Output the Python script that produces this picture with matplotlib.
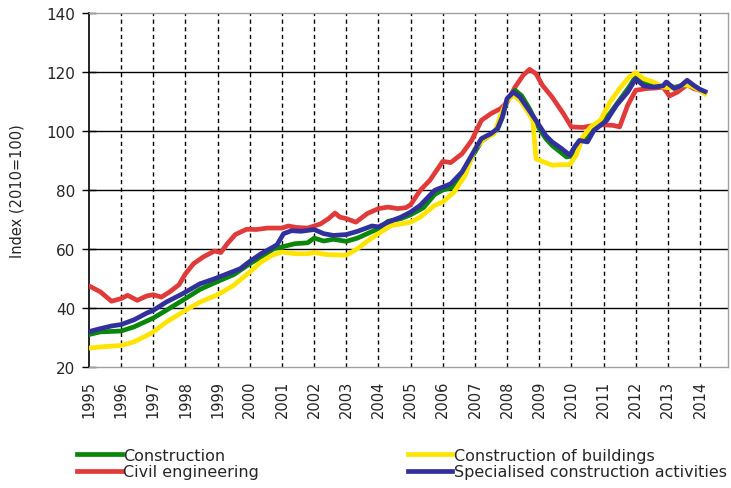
import matplotlib
matplotlib.use("Agg")
import matplotlib.pyplot as plt

# ---- data ----
red_t = [1995.0, 1995.35, 1995.7, 1996.0, 1996.2, 1996.5, 1996.8, 1997.0, 1997.25, 1997.5, 1997.8,
         1998.0, 1998.25, 1998.55, 1998.9, 1999.1, 1999.3, 1999.55, 1999.9, 2000.2, 2000.55, 2001.0,
         2001.2, 2001.45, 2001.8, 2002.0, 2002.2, 2002.45, 2002.65, 2002.8, 2003.0, 2003.3, 2003.65,
         2004.0, 2004.3, 2004.6, 2004.85, 2005.0, 2005.3, 2005.6, 2006.0, 2006.25, 2006.6, 2006.9,
         2007.2, 2007.5, 2007.8, 2008.0, 2008.25, 2008.5, 2008.7, 2008.9, 2009.1, 2009.4, 2009.75,
         2010.0, 2010.35, 2010.7, 2011.0, 2011.3, 2011.5, 2011.75, 2012.0, 2012.35, 2012.65, 2012.85,
         2013.05, 2013.3, 2013.6, 2013.8, 2014.0, 2014.15]
red_v = [47.5, 45.5, 42.3, 43.2, 44.3, 42.6, 44.1, 44.5, 43.7, 45.4, 47.9,
         51.6, 55.0, 57.3, 59.3, 58.8, 61.8, 64.9, 66.7, 66.6, 67.1, 67.1,
         67.8, 67.3, 67.1, 67.8, 68.5, 70.3, 72.2, 70.8, 70.3, 69.1, 72.0,
         73.7, 74.2, 73.7, 74.0, 75.0, 79.9, 83.3, 89.7, 89.3, 92.3, 96.8,
         103.6, 105.9, 107.6, 109.8, 114.9, 118.9, 120.9, 119.4, 115.5, 111.5, 105.9,
         101.4, 101.2, 101.9, 102.1, 101.9, 101.4, 108.7, 113.8, 114.4, 114.6, 114.9,
         111.9, 113.2, 115.7, 114.4, 113.8, 113.0]

blue_t = [1995.0, 1995.35, 1995.7, 1996.0, 1996.4, 1996.8, 1997.0, 1997.4, 1997.85, 1998.0, 1998.45,
          1998.9, 1999.3, 1999.7, 2000.0, 2000.35, 2000.7, 2000.85, 2001.05, 2001.3, 2001.6, 2002.0,
          2002.3, 2002.6, 2003.0, 2003.35, 2003.8, 2004.0, 2004.3, 2004.7, 2005.0, 2005.3, 2005.75,
          2006.0, 2006.25, 2006.6, 2006.9, 2007.2, 2007.5, 2007.7, 2007.85, 2008.0, 2008.2, 2008.4,
          2008.65, 2009.0, 2009.2, 2009.4, 2009.7, 2009.95, 2010.1, 2010.25, 2010.5, 2010.7, 2010.9,
          2011.1, 2011.4, 2011.75, 2012.0, 2012.25, 2012.55, 2012.85, 2012.95, 2013.2, 2013.4, 2013.6,
          2013.8, 2014.0, 2014.15]
blue_v = [32.0, 33.0, 33.9, 34.4, 36.0, 38.3, 39.2, 42.0, 44.5, 45.4, 48.2,
          49.9, 51.6, 53.3, 55.8, 58.4, 60.5, 61.5, 65.2, 66.2, 66.0, 66.6,
          65.2, 64.6, 64.9, 66.0, 67.8, 67.5, 69.1, 70.8, 72.5, 74.8, 79.9,
          81.0, 82.1, 86.1, 91.8, 97.4, 99.1, 100.8, 104.7, 111.0, 113.2, 111.5,
          107.6, 101.9, 98.5, 96.3, 94.0, 91.8, 94.6, 96.8, 96.3, 100.2, 101.9,
          103.6, 108.7, 113.2, 117.7, 115.3, 114.9, 115.3, 116.6, 114.4, 115.3, 117.2,
          115.5, 114.1, 113.4]

green_t = [1995.0, 1995.35, 1996.0, 1996.4, 1997.0, 1997.4, 1998.0, 1998.45, 1999.0, 1999.5, 2000.0,
           2000.35, 2000.75, 2001.0, 2001.4, 2001.8, 2002.0, 2002.3, 2002.6, 2003.0, 2003.35, 2003.65,
           2004.0, 2004.3, 2004.7, 2005.0, 2005.4, 2005.75, 2006.0, 2006.35, 2006.6, 2006.9, 2007.2,
           2007.5, 2007.7, 2007.85, 2008.0, 2008.25, 2008.45, 2008.7, 2009.0, 2009.2, 2009.4, 2009.7,
           2009.85, 2010.0, 2010.15, 2010.3, 2010.5, 2010.7, 2010.9, 2011.2, 2011.5, 2011.8, 2012.0,
           2012.25, 2012.55, 2012.85, 2013.0, 2013.2, 2013.5, 2013.65, 2013.85, 2014.0, 2014.15]
green_v = [31.0, 31.9, 32.2, 33.6, 36.6, 39.2, 43.2, 46.3, 49.0, 51.3, 55.0,
           57.3, 60.1, 60.7, 61.8, 62.1, 63.7, 62.7, 63.3, 62.6, 63.7, 65.2,
           66.9, 69.4, 70.3, 71.6, 74.0, 78.5, 80.0, 81.0, 85.0, 91.0, 96.5,
           98.8, 100.5, 104.5, 110.5, 113.8, 112.0, 107.5, 100.8, 97.5, 95.1, 92.5,
           91.2, 91.5, 94.5, 97.0, 97.5, 100.5, 102.5, 106.0, 110.5, 115.0, 118.5,
           116.5, 115.5, 115.0, 115.5, 114.8, 115.6, 116.5, 115.0, 113.8, 113.2]

yellow_t = [1995.0, 1995.35, 1995.75, 1996.0, 1996.4, 1996.8, 1997.0, 1997.4, 1998.0, 1998.45, 1999.0,
            1999.5, 2000.0, 2000.35, 2000.7, 2001.0, 2001.4, 2001.8, 2002.0, 2002.4, 2003.0, 2003.35,
            2003.65, 2004.0, 2004.4, 2004.7, 2005.0, 2005.3, 2005.75, 2006.0, 2006.35, 2006.7, 2007.0,
            2007.3, 2007.6, 2007.8, 2008.0, 2008.2, 2008.4, 2008.65, 2008.8, 2008.9, 2009.1, 2009.4,
            2009.7, 2009.95, 2010.15, 2010.35, 2010.6, 2010.9, 2011.2, 2011.5, 2011.8, 2012.0, 2012.25,
            2012.55, 2012.85, 2013.2, 2013.5, 2013.7, 2014.0, 2014.15]
yellow_v = [26.4, 26.8, 27.1, 27.3, 28.5, 30.7, 31.9, 35.2, 39.2, 42.0, 44.5,
            47.7, 52.2, 55.6, 57.9, 59.0, 58.4, 58.4, 58.8, 58.1, 57.9, 60.1,
            62.6, 65.2, 68.0, 68.5, 69.1, 70.8, 74.8, 75.9, 79.3, 85.0, 94.0,
            97.4, 99.1, 105.3, 110.4, 112.1, 110.4, 106.4, 103.6, 90.6, 89.7, 88.4,
            88.6, 88.6, 91.8, 98.0, 101.4, 103.6, 109.8, 114.4, 118.3, 119.8, 117.7,
            116.6, 114.9, 114.4, 115.7, 115.3, 113.8, 112.6]

years = list(range(1995, 2015))
yticks = [20, 40, 60, 80, 100, 120, 140]
labels = ["Construction", "Civil engineering", "Construction of buildings",
          "Specialised construction activities"]

# ---- plot ----
TXT = "#262626"
fig = plt.figure(figsize=(7.31, 4.89), dpi=100)
ax = fig.add_axes([89/731, 1 - 368/489, (728 - 89)/731, (368 - 14)/489])

lw = 3.4
l_red, = ax.plot(red_t, red_v, color="#e03a3a", lw=lw, solid_joinstyle="round", zorder=3)
l_green, = ax.plot(green_t, green_v, color="#0a860a", lw=lw, solid_joinstyle="round", zorder=4)
l_yel, = ax.plot(yellow_t, yellow_v, color="#ffe400", lw=lw, solid_joinstyle="round", zorder=5)
l_blue, = ax.plot(blue_t, blue_v, color="#31319e", lw=lw, solid_joinstyle="round", zorder=6)

ax.set_xlim(1995, 2014.87)
ax.set_ylim(20, 140)
ax.set_yticks(yticks)
ax.set_xticks(years)
ax.set_xticklabels([str(y) for y in years], rotation=90, fontsize=10.5, color=TXT)
ax.tick_params(axis="x", length=0, pad=9)
ax.tick_params(axis="y", direction="inout", length=10, width=1, labelsize=11,
               pad=5, labelcolor=TXT)

for y in yticks[1:-1]:
    ax.axhline(y, color="black", lw=1.0, zorder=1)
for y in years[1:]:
    ax.axvline(y, color="black", lw=1.0, ls=(0, (3, 2.5)), zorder=1)

for s in ["top", "right", "bottom"]:
    ax.spines[s].set_color("#a0a0a0")
    ax.spines[s].set_linewidth(1.0)
ax.spines["left"].set_color("black")
ax.spines["left"].set_linewidth(1.2)

ax.set_ylabel("Index (2010=100)", fontsize=10.5, labelpad=16, color=TXT)

fig.legend([l_green, l_red, l_yel, l_blue], labels, ncol=2, frameon=False,
           loc="upper left", bbox_to_anchor=(77/731, 1 - 449/489),
           fontsize=11.5, handlelength=2.8, handletextpad=0.1,
           columnspacing=9.3, labelspacing=0.08, borderaxespad=0, borderpad=0,
           labelcolor=TXT)

fig.savefig("out.png", dpi=100)
